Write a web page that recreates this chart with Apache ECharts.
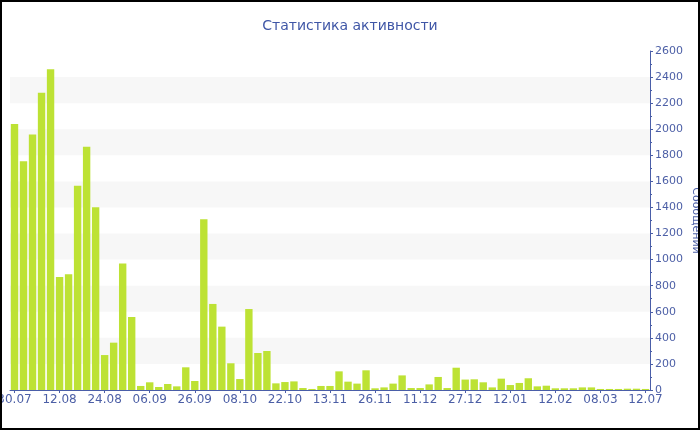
<!DOCTYPE html>
<html>
<head>
<meta charset="utf-8">
<script src="https://cdn.jsdelivr.net/npm/echarts@6/dist/echarts.min.js"></script>
<style>
html,body{margin:0;padding:0;background:#fff;}
#wrap{position:relative;width:700px;height:430px;}
#chart{position:absolute;left:0;top:0;width:700px;height:430px;}
#frame{position:absolute;left:0;top:0;width:700px;height:430px;box-sizing:border-box;border:2px solid #000;pointer-events:none;}
</style>
</head>
<body>
<div id="wrap"><div id="chart"></div><div id="frame"></div></div>
<script>
const titleText = 'Статистика активности';
const yAxisName = 'Сообщений';
const categories = [
 '30.07','02.08','05.08','07.08','10.08','12.08','14.08','17.08','19.08','22.08',
 '24.08','27.08','29.08','01.09','04.09','06.09','10.09','14.09','18.09','22.09',
 '26.09','28.09','01.10','03.10','06.10','08.10','11.10','14.10','17.10','20.10',
 '22.10','26.10','31.10','04.11','09.11','13.11','16.11','18.11','21.11','24.11',
 '26.11','29.11','02.12','05.12','08.12','11.12','14.12','17.12','21.12','24.12',
 '27.12','30.12','03.01','06.01','09.01','12.01','18.01','24.01','30.01','06.02',
 '12.02','17.02','22.02','27.02','03.03','08.03','05.04','02.05','28.05','20.06',
 '12.07'
];
const messages = [
 2040,1755,1960,2280,2460,866,887,1567,1866,1401,
 268,363,971,560,31,59,23,46,28,174,
 69,1309,660,486,205,84,621,284,299,51,
 61,66,15,8,31,31,143,64,49,151,
 13,20,49,112,15,15,43,100,15,171,
 80,82,59,20,87,38,54,90,28,33,
 13,13,13,20,20,8,8,8,10,10,
 8
];
const yTicks = {min:0, max:2600, interval:200};

const axisColor = '#4a5ea8';
const labelColor = '#4c5fa6';
const font = 'DejaVu Sans';

const chart = echarts.init(document.getElementById('chart'), null, {renderer:'canvas'});
chart.setOption({
  animation:false,
  backgroundColor:'#fff',
  title:{
    text:titleText, left:'center', top:14,
    textStyle:{fontFamily:font, fontSize:14, fontWeight:'normal', color:'#3f56a6'}
  },
  grid:{left:10, right:50, top:51, bottom:40, containLabel:false, outerBoundsMode:'none'},
  xAxis:{
    type:'category', data:categories,
    axisLine:{show:true, lineStyle:{color:axisColor, width:1}},
    axisTick:{show:true, interval:4, alignWithLabel:true, length:3, lineStyle:{color:axisColor}},
    axisLabel:{interval:4, margin:4, color:labelColor, fontFamily:font, fontSize:12, hideOverlap:false},
    splitLine:{show:false}
  },
  yAxis:{
    type:'value', position:'right',
    min:yTicks.min, max:yTicks.max, interval:yTicks.interval,
    name:yAxisName, nameLocation:'middle', nameRotate:-90, nameGap:40, nameMoveOverlap:false,
    nameTextStyle:{color:labelColor, fontFamily:font, fontSize:11},
    axisLine:{show:true, lineStyle:{color:axisColor, width:1}},
    axisTick:{show:true, length:3, lineStyle:{color:axisColor}},
    minorTick:{show:true, splitNumber:2, length:2, lineStyle:{color:axisColor}},
    axisLabel:{margin:5, color:labelColor, fontFamily:font, fontSize:11, formatter:function(v){return String(v);}},
    splitLine:{show:false},
    splitArea:{show:true, areaStyle:{color:['rgba(255,255,255,0)','#f7f7f7']}}
  },
  series:[{
    type:'bar', data:messages, barCategoryGap:'18%',
    itemStyle:{color:'#bde234'}
  }]
});
</script>
</body>
</html>
